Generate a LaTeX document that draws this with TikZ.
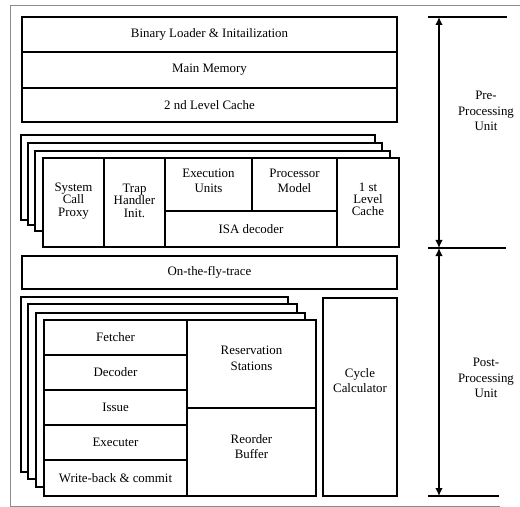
\documentclass[tikz,border=0pt]{standalone}
\usepackage{fontspec}
\setmainfont{Liberation Serif}
\usetikzlibrary{arrows.meta,fit}

\begin{document}
\begin{tikzpicture}[
  x=0.03cm, y=-0.03cm,
  >={Latex[length=2.4mm,width=2.2mm]},
  font=\fontsize{11}{13}\selectfont,
  box/.style={draw=black,line width=0.9pt,fill=white,inner sep=0pt},
  txt/.style={align=center,inner sep=1pt},
  tight/.style={txt,font=\fontsize{11}{10.5}\selectfont},
  span/.style={<->,line width=0.9pt},
  tick/.style={line width=0.9pt},
  frame/.style={draw=black!45,line width=0.6pt}
]
\useasboundingbox (0,0) rectangle (520,507);

% outer frame (open on the right)
\draw[frame] (520,5) -- (10,5) -- (10,506) -- (500,506);

% Top blocks
\node[box,fit={(22,17) (397,52)}] (loader) {};
\node[box,fit={(22,52) (397,88)}] (mem) {};
\node[box,fit={(22,88) (397,122)}] (l2) {};
\node[txt] (loadertxt) at (loader) {Binary Loader \& Initailization};
\node[txt] (memtxt) at (mem) {Main Memory};
\node[txt] (l2txt) at (l2) {2 nd Level Cache};

% Pre-processing cards (back to front)
\node[box,fit={(21,135) (375,220)}] (pre1) {};
\node[box,fit={(28,143) (382,225)}] (pre2) {};
\node[box,fit={(35,151) (390,231)}] (pre3) {};
\node[box,fit={(43,158) (399,247)}] (pre4) {};
\node[box,fit={(43,158) (104,247)}] (sys) {};
\node[box,fit={(104,158) (165,247)}] (trap) {};
\node[box,fit={(165,158) (252,211)}] (exe) {};
\node[box,fit={(252,158) (337,211)}] (pmod) {};
\node[box,fit={(165,211) (337,247)}] (isa) {};
\node[box,fit={(337,158) (399,247)}] (l1) {};
\node[tight,yshift=0.05cm] (systxt) at (sys) {System\\Call\\Proxy};
\node[tight,yshift=0.05cm] (traptxt) at (trap) {Trap\\Handler\\Init.};
\node[txt,yshift=0.12cm] (exetxt) at (exe) {Execution\\Units};
\node[txt,yshift=0.12cm] (pmodtxt) at (pmod) {Processor\\Model};
\node[txt] (isatxt) at (isa) {ISA decoder};
\node[tight,yshift=0.1cm] (l1txt) at (l1) {1 st\\Level\\Cache};

% trace
\node[box,fit={(22,256) (397,289)}] (trace) {};
\node[txt] (tracetxt) at (trace) {On-the-fly-trace};

% Post-processing cards (back to front)
\node[box,fit={(21,297) (288,472)}] (post1) {};
\node[box,fit={(28,304) (297,479)}] (post2) {};
\node[box,fit={(36,313) (305,487)}] (post3) {};
\node[box,fit={(44,320) (316,496)}] (post4) {};
\node[box,fit={(44,320) (187,355)}] (fetch) {};
\node[box,fit={(44,355) (187,390)}] (dec) {};
\node[box,fit={(44,390) (187,425)}] (issue) {};
\node[box,fit={(44,425) (187,460)}] (exec) {};
\node[box,fit={(44,460) (187,496)}] (wb) {};
\node[box,fit={(187,320) (316,408)}] (rs) {};
\node[box,fit={(187,408) (316,496)}] (rob) {};
\node[txt] (fetchtxt) at (fetch) {Fetcher};
\node[txt] (dectxt) at (dec) {Decoder};
\node[txt] (issuetxt) at (issue) {Issue};
\node[txt] (exectxt) at (exec) {Executer};
\node[txt] (wbtxt) at (wb) {Write-back \& commit};
\node[txt,yshift=0.17cm] (rstxt) at (rs) {Reservation\\Stations};
\node[txt,yshift=0.17cm] (robtxt) at (rob) {Reorder\\Buffer};

% cycle calculator
\node[box,fit={(323,298) (397,496)}] (cyc) {};
\node[txt,yshift=0.5cm] (cyctxt) at (cyc) {Cycle\\Calculator};

% unit extents
\coordinate (pretop) at (439,17);
\coordinate (split) at (439,248);
\coordinate (postbot) at (439,496);
\draw[tick] (428,17) -- (507,17);
\draw[tick] (428,248) -- (506,248);
\draw[tick] (428,496) -- (499,496);
\draw[span] (pretop) -- (split);
\draw[span] (split) -- (postbot);
\node[txt] (prelbl) at (486,111) {Pre-\\Processing\\Unit};
\node[txt] (postlbl) at (486,378) {Post-\\Processing\\Unit};

\end{tikzpicture}
\end{document}
